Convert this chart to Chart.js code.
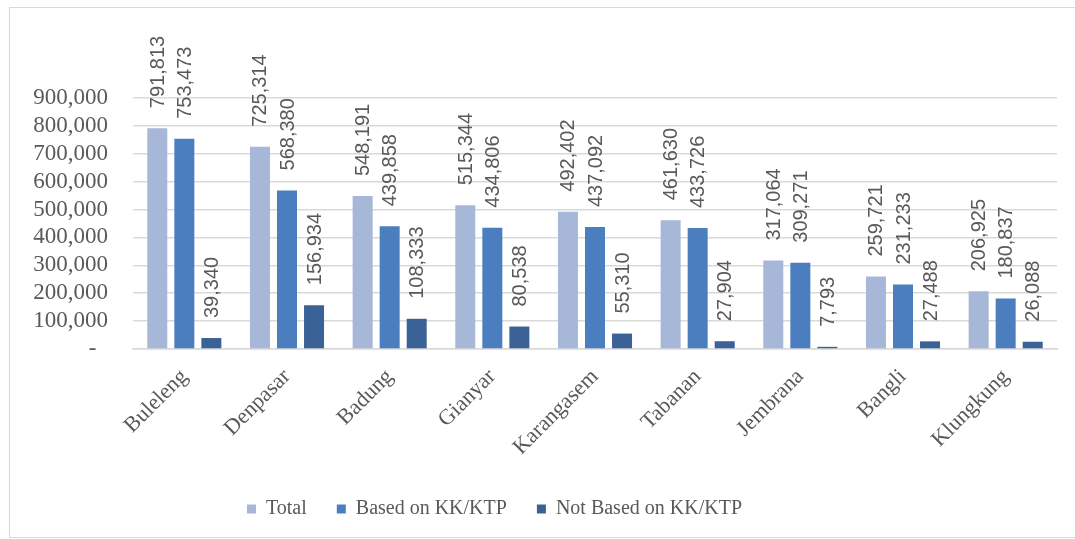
<!DOCTYPE html>
<html>
<head>
<meta charset="utf-8">
<script src="https://cdn.jsdelivr.net/npm/chart.js@4/dist/chart.umd.min.js"></script>
<style>
  html, body { margin: 0; padding: 0; background: #ffffff; }
  #wrap { position: relative; width: 1075px; height: 539px; overflow: hidden; }
  #frame { position: absolute; left: 9px; top: 7px; width: 1080px; height: 529px;
           border-left: 1px solid #d9d9d9; border-top: 1px solid #d9d9d9; border-bottom: 1px solid #d9d9d9; }
  #c { position: absolute; left: 0; top: 0; }
</style>
</head>
<body>
<div id="wrap">
  <div id="frame"></div>
  <canvas id="c" width="1075" height="539"></canvas>
</div>
<script>
const categories = ['Buleleng', 'Denpasar', 'Badung', 'Gianyar', 'Karangasem', 'Tabanan', 'Jembrana', 'Bangli', 'Klungkung'];
const seriesNames = ['Total', 'Based on KK/KTP', 'Not Based on KK/KTP'];
const totalValues = [791813, 725314, 548191, 515344, 492402, 461630, 317064, 259721, 206925];
const basedValues = [753473, 568380, 439858, 434806, 437092, 433726, 309271, 231233, 180837];
const notBasedValues = [39340, 156934, 108333, 80538, 55310, 27904, 7793, 27488, 26088];
const yTicks = [0, 100000, 200000, 300000, 400000, 500000, 600000, 700000, 800000, 900000];

const colors = ['#a7b7d7', '#4b7ebf', '#3a6296'];
const textColor = '#595959';

function fmt(v) { return v.toLocaleString('en-US'); }

const dataLabelPlugin = {
  id: 'rotatedDataLabels',
  afterDatasetsDraw(chart) {
    const ctx = chart.ctx;
    ctx.save();
    ctx.font = '20px "Liberation Sans", Arial, sans-serif';
    ctx.fillStyle = textColor;
    ctx.textAlign = 'left';
    ctx.textBaseline = 'middle';
    chart.data.datasets.forEach((ds, i) => {
      const meta = chart.getDatasetMeta(i);
      meta.data.forEach((bar, j) => {
        ctx.save();
        ctx.translate(bar.x + 1, bar.y - 20);
        ctx.rotate(-Math.PI / 2);
        ctx.fillText(fmt(ds.data[j]), 0, 0);
        ctx.restore();
      });
    });
    ctx.restore();
  }
};

const legendShift = {
  id: 'legendShift',
  afterLayout(chart) {
    const lg = chart.legend;
    if (lg) { lg.left -= 34; lg.right -= 34; }
  }
};

new Chart(document.getElementById('c'), {
  type: 'bar',
  data: {
    labels: categories,
    datasets: [
      { label: seriesNames[0], data: totalValues, backgroundColor: colors[0] },
      { label: seriesNames[1], data: basedValues, backgroundColor: colors[1] },
      { label: seriesNames[2], data: notBasedValues, backgroundColor: colors[2] }
    ]
  },
  options: {
    responsive: false,
    animation: false,
    devicePixelRatio: 1,
    layout: { padding: { top: 98, left: 0, right: 18, bottom: 10 } },
    datasets: { bar: { categoryPercentage: 0.79, barPercentage: 0.74 } },
    plugins: {
      tooltip: { enabled: false },
      legend: {
        position: 'bottom',
        labels: {
          boxWidth: 9, boxHeight: 9, padding: 30,
          color: textColor,
          font: { family: '"Liberation Serif", "Times New Roman", serif', size: 20 }
        }
      }
    },
    scales: {
      x: {
        grid: { display: false },
        border: { color: '#d9d9d9', width: 1.5 },
        ticks: {
          color: textColor, minRotation: 45, maxRotation: 45, padding: 7, autoSkip: false,
          font: { family: '"Liberation Serif", "Times New Roman", serif', size: 22 }
        },
        afterFit(s) { s.height = 120; }
      },
      y: {
        min: 0, max: 900000,
        afterBuildTicks(s) { s.ticks = yTicks.map(v => ({ value: v })); },
        grid: { color: '#d9d9d9', lineWidth: 1.5, drawTicks: false },
        border: { display: false },
        ticks: {
          color: textColor, padding: 25, autoSkip: false,
          font: { family: '"Liberation Serif", "Times New Roman", serif', size: 23 },
          callback: (v) => v === 0 ? '-  ' : fmt(v)
        },
        afterFit(s) { s.width = 133; }
      }
    }
  },
  plugins: [dataLabelPlugin, legendShift]
});
</script>
</body>
</html>
